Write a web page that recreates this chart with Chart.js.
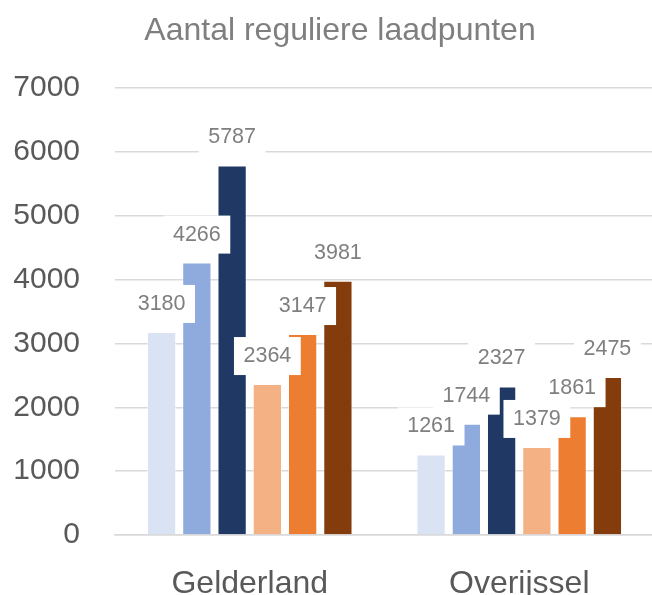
<!DOCTYPE html>
<html>
<head>
<meta charset="utf-8">
<script src="https://cdn.jsdelivr.net/npm/chart.js@4/dist/chart.umd.min.js"></script>
<style>
  html, body { margin: 0; padding: 0; background: #fff; overflow: hidden; }
  #wrap { width: 654px; height: 595px; }
</style>
</head>
<body>
<div id="wrap"><canvas id="chart"></canvas></div>
<script>
const chartTitle = 'Aantal reguliere laadpunten';
const provinces = ['Gelderland', 'Overijssel'];
const seriesNames = ['Reeks 1', 'Reeks 2', 'Reeks 3', 'Reeks 4', 'Reeks 5', 'Reeks 6'];
const seriesValues = [
    [3180, 1261],
    [4266, 1744],
    [5787, 2327],
    [2364, 1379],
    [3147, 1861],
    [3981, 2475]
];
const seriesColors = ['#dae3f3', '#8faadc', '#203864', '#f4b183', '#ed7d31', '#843c0c'];
const yMax = 7000;
const yStep = 1000;

const FONT = '"Liberation Sans", Arial, sans-serif';

// draws the title and the boxed value labels on top of the bars
const labelPlugin = {
    id: 'labelPlugin',
    afterDatasetsDraw(chart) {
        const ctx = chart.ctx;
        ctx.save();
        ctx.font = '21.5px ' + FONT;
        ctx.textAlign = 'center';
        ctx.textBaseline = 'middle';
        chart.data.datasets.forEach((ds, i) => {
            chart.getDatasetMeta(i).data.forEach((bar, j) => {
                const text = String(ds.data[j]);
                const w = ctx.measureText(text).width + 19;
                const h = 38;
                const cy = bar.y - 28;
                ctx.fillStyle = '#ffffff';
                ctx.fillRect(bar.x - w / 2, cy - h / 2, w, h);
                ctx.fillStyle = '#7f7f7f';
                ctx.fillText(text, bar.x, cy);
            });
        });
        ctx.font = '32px ' + FONT;
        ctx.fillStyle = '#7f7f7f';
        ctx.fillText(chartTitle, 340, 31);
        ctx.restore();
    }
};

new Chart(document.getElementById('chart'), {
    type: 'bar',
    data: {
        labels: provinces,
        datasets: seriesNames.map((name, i) => ({
            label: name,
            data: seriesValues[i],
            backgroundColor: seriesColors[i],
            borderColor: 'rgba(255,255,255,0.5)',
            borderWidth: 1,
            categoryPercentage: 0.785,
            barPercentage: 0.83
        }))
    },
    options: {
        responsive: true,
        maintainAspectRatio: false,
        animation: false,
        layout: { padding: { top: 88, right: 0, left: 0, bottom: 0 } },
        plugins: {
            legend: { display: false },
            title: { display: false },
            tooltip: { enabled: false }
        },
        scales: {
            x: {
                grid: { display: false },
                border: { display: true, color: '#d9d9d9', width: 1.5 },
                ticks: { color: '#595959', font: { family: FONT, size: 32 }, padding: 22 },
                afterFit: (s) => { s.height = 60; }
            },
            y: {
                min: 0,
                max: yMax,
                grid: { color: '#d9d9d9', lineWidth: 1.5, drawTicks: false },
                border: { display: false },
                ticks: {
                    stepSize: yStep, color: '#595959', font: { family: FONT, size: 30 }, padding: 35,
                    callback: (v) => String(v)
                },
                afterFit: (s) => { s.width = 115; }
            }
        }
    },
    plugins: [labelPlugin]
});
</script>
</body>
</html>
